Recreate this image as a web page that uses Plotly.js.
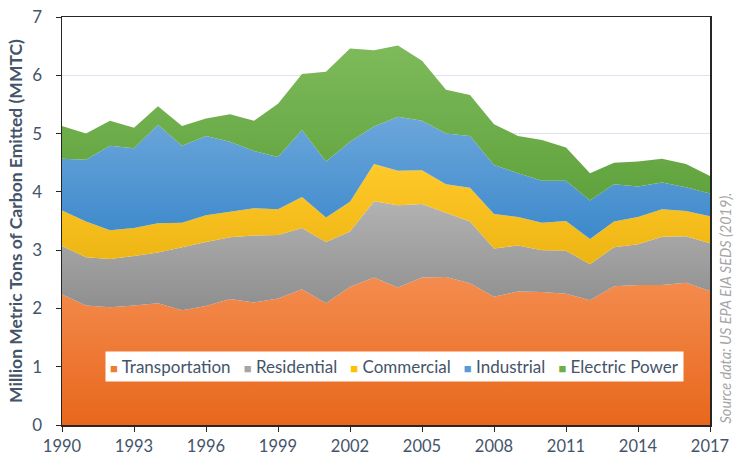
<!DOCTYPE html>
<html>
<head>
<meta charset="utf-8">
<script src="https://cdn.plot.ly/plotly-3.0.1.min.js"></script>
<style>html,body{margin:0;padding:0;background:#fff;}#chart{width:741px;height:458px;}</style>
</head>
<body>
<div id="chart"></div>
<script>
var years = [1990,1991,1992,1993,1994,1995,1996,1997,1998,1999,2000,2001,2002,2003,2004,2005,2006,2007,2008,2009,2010,2011,2012,2013,2014,2015,2016,2017];
var transportation = [2.24,2.05,2.02,2.05,2.09,1.97,2.04,2.16,2.10,2.17,2.33,2.09,2.37,2.53,2.36,2.53,2.54,2.43,2.20,2.29,2.28,2.25,2.14,2.38,2.40,2.40,2.44,2.30];
var residential = [0.83,0.83,0.83,0.85,0.87,1.08,1.10,1.06,1.15,1.09,1.05,1.05,0.95,1.31,1.41,1.26,1.10,1.06,0.83,0.79,0.72,0.74,0.62,0.67,0.70,0.83,0.80,0.82];
var commercial = [0.61,0.61,0.49,0.48,0.50,0.42,0.46,0.44,0.47,0.44,0.53,0.42,0.51,0.64,0.59,0.58,0.49,0.58,0.59,0.49,0.47,0.51,0.43,0.44,0.47,0.47,0.43,0.46];
var industrial = [0.89,1.06,1.45,1.37,1.69,1.32,1.36,1.20,0.98,0.90,1.15,0.96,1.03,0.64,0.93,0.85,0.87,0.89,0.84,0.75,0.72,0.69,0.66,0.64,0.52,0.46,0.41,0.39];
var electricPower = [0.56,0.45,0.43,0.35,0.32,0.34,0.30,0.47,0.52,0.91,0.96,1.54,1.60,1.31,1.22,1.03,0.75,0.70,0.70,0.64,0.70,0.57,0.47,0.37,0.43,0.41,0.40,0.30];

var seriesNames = ['Transportation','Residential','Commercial','Industrial','Electric Power'];
var seriesValues = [transportation, residential, commercial, industrial, electricPower];
var colorTop = ['#F48C4F','#B2B2B2','#FFC92A','#6CA6DB','#7EBA5B'];
var colorBottom = ['#E8671C','#8E8E8E','#EDB512','#3C89CB','#5FA23D'];
var legendColors = ['#ED7D31','#A5A5A5','#FFC000','#5B9BD5','#70AD47'];
var xTicks = [1990,1993,1996,1999,2002,2005,2008,2011,2014,2017];
var sourceText = 'Source data: US EPA EIA SEDS (2019).';

var textColor = '#44546A';
var font = 'Lato, "Open Sans", sans-serif';

var traces = seriesNames.map(function(name, i){
  return {
    x: years, y: seriesValues[i], name: name,
    type: 'scatter', mode: 'none', stackgroup: 'one',
    fillcolor: legendColors[i],
    fillgradient: {type: 'vertical', colorscale: [[0, colorBottom[i]], [1, colorTop[i]]]},
    line: {width: 0},
    showlegend: false, hoverinfo: 'skip'
  };
});

var legendText = seriesNames.map(function(name, i){
  return '<span style="color:' + legendColors[i] + ';font-size:13px">\u25A0</span>\u00a0' + name;
}).join('\u00a0\u00a0\u00a0');

var layout = {
  width: 741, height: 458,
  margin: {l: 62, r: 31, t: 17, b: 33},
  paper_bgcolor: '#fff', plot_bgcolor: '#fff',
  font: {family: font, color: textColor, size: 17},
  showlegend: false,
  xaxis: {
    range: [1990, 2017], tickvals: xTicks, ticktext: xTicks.map(String),
    showgrid: false, zeroline: false,
    showline: true, linecolor: '#262626', linewidth: 1.5, mirror: true,
    ticks: 'outside', ticklen: 5, tickcolor: '#262626', tickwidth: 1,
    ticklabelstandoff: 1,
    tickfont: {family: font, size: 16.5, color: textColor}
  },
  yaxis: {
    range: [0, 7], dtick: 1, tick0: 0,
    showgrid: true, gridcolor: '#DCE3EE', gridwidth: 1, zeroline: false,
    showline: true, linecolor: '#262626', linewidth: 1.5, mirror: true,
    ticks: 'outside', ticklen: 5, tickcolor: '#262626', tickwidth: 1,
    ticklabelstandoff: 10,
    tickfont: {family: font, size: 17, color: textColor},
    title: {text: '<b>Million Metric Tons of Carbon Emitted (MMTC)</b>', font: {family: font, size: 17.5, color: textColor}, standoff: 5}
  },
  annotations: [
    {
      xref: 'paper', yref: 'paper', x: 0.513, y: 0.1434,
      xanchor: 'center', yanchor: 'middle', showarrow: false,
      text: legendText, bgcolor: '#ffffff', borderpad: 4,
      font: {family: font, size: 17, color: textColor}
    },
    {
      xref: 'paper', yref: 'paper', x: 1.024, y: 0.287,
      xanchor: 'center', yanchor: 'middle', showarrow: false, textangle: -90,
      text: '<i>' + sourceText + '</i>',
      font: {family: font, size: 14.5, color: '#A6A6A6'}
    }
  ]
};

Plotly.newPlot('chart', traces, layout, {staticPlot: true, displayModeBar: false});
</script>
</body>
</html>
